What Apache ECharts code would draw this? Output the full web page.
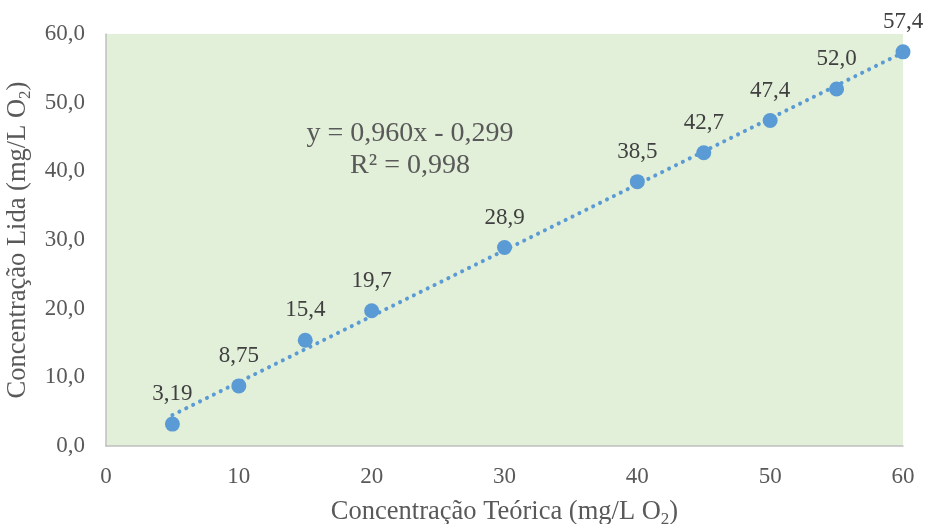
<!DOCTYPE html>
<html><head><meta charset="utf-8">
<script src="https://cdn.jsdelivr.net/npm/echarts@6/dist/echarts.min.js"></script>
<style>html,body{margin:0;padding:0;background:#fff}#c{width:925px;height:524px}</style>
</head><body><div id="c"></div>
<script>
var xValues = [5, 10, 15, 20, 30, 40, 45, 50, 55, 60];
var yValues = [3.19, 8.75, 15.4, 19.7, 28.9, 38.5, 42.7, 47.4, 52.0, 57.4];
var pointLabels = ['3,19', '8,75', '15,4', '19,7', '28,9', '38,5', '42,7', '47,4', '52,0', '57,4'];
var xTicks = [0, 10, 20, 30, 40, 50, 60];
var yTicks = ['0,0', '10,0', '20,0', '30,0', '40,0', '50,0', '60,0'];
var trendSlope = 0.960;
var trendIntercept = -0.299;
var trendRange = [5, 60];
var equationLines = ['y = 0,960x - 0,299', 'R² = 0,998'];

var font = 'Liberation Serif, Times New Roman, serif';
var chart = echarts.init(document.getElementById('c'));
var pts = xValues.map(function (x, i) { return [x, yValues[i]]; });
var trend = trendRange.map(function (x) { return [x, trendSlope * x + trendIntercept]; });
var subRich = { s: { fontFamily: font, fontSize: 17, color: '#595959', verticalAlign: 'bottom', padding: [14, 0, 0, 0] } };

chart.setOption({
  animation: false,
  grid: { left: 106, right: 22, top: 34, bottom: 78, outerBoundsMode: 'none', containLabel: false,
    show: true, backgroundColor: '#e2efd9', borderWidth: 0 },
  xAxis: {
    type: 'value', min: 0, max: 60, interval: 10,
    name: 'Concentração Teórica (mg/L O{s|2})', nameLocation: 'middle', nameGap: 51,
    nameTextStyle: { fontFamily: font, fontSize: 26.5, color: '#595959', rich: subRich },
    axisLine: { show: true, lineStyle: { color: '#bfbfbf', width: 1.5 } },
    axisTick: { show: false }, splitLine: { show: false },
    axisLabel: { fontFamily: font, fontSize: 23, color: '#595959', margin: 19,
      formatter: function (v) { return xTicks.indexOf(v) >= 0 ? String(v) : ''; } }
  },
  yAxis: {
    type: 'value', min: 0, max: 60, interval: 10,
    name: 'Concentração Lida (mg/L O{s|2})', nameLocation: 'middle', nameGap: 67,
    nameTextStyle: { fontFamily: font, fontSize: 26.5, color: '#595959', rich: subRich },
    axisLine: { show: true, lineStyle: { color: '#bfbfbf', width: 1.5 } },
    axisTick: { show: false }, splitLine: { show: false },
    axisLabel: { fontFamily: font, fontSize: 23, color: '#595959', margin: 21,
      formatter: function (v) { return yTicks[Math.round(v / 10)]; } }
  },
  series: [
    {
      type: 'line', data: trend, symbol: 'none', z: 2,
      lineStyle: { color: '#5b9bd5', width: 4, type: [0.1, 7.6], cap: 'round' }
    },
    {
      type: 'scatter', data: pts, symbolSize: 15, z: 3,
      itemStyle: { color: '#5b9bd5', opacity: 1 },
      label: { show: true, position: 'top', distance: 11, fontFamily: font, fontSize: 23, color: '#404040',
        formatter: function (p) { return pointLabels[p.dataIndex]; } }
    }
  ],
  graphic: [
    { type: 'text', x: 410, y: 120, z: 10, style: { text: equationLines[0], align: 'center', verticalAlign: 'top', fontFamily: font, fontSize: 28, fill: '#595959' } },
    { type: 'text', x: 410, y: 152, z: 10, style: { text: equationLines[1], align: 'center', verticalAlign: 'top', fontFamily: font, fontSize: 28, fill: '#595959' } }
  ]
});
</script></body></html>
